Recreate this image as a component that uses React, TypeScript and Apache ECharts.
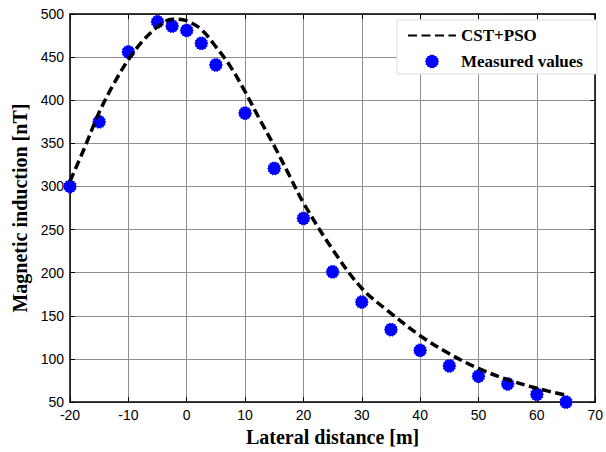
import React, { useEffect, useRef } from "react";
import * as echarts from "echarts";

const xMeasured = [-20, -15, -10, -5, -2.5, 0, 2.5, 5, 10, 15, 20, 25, 30, 35, 40, 45, 50, 55, 60, 65];
const yMeasured = [300, 375, 456, 491, 486, 481, 466, 441, 385, 321, 263, 201, 166, 134, 110, 92, 80, 71, 59, 50];

const xFit = [-20, -17.5, -15, -12.5, -10, -7.5, -5, -2.5, 0, 2.5, 5, 7.5, 10, 12.5, 15, 17.5, 20, 25, 30, 35, 40, 45, 50, 55, 60, 65];
const yFit = [306, 345, 386, 419, 447, 469, 485, 494, 492, 482, 462, 439, 410, 378, 347, 314, 281, 227, 182, 153, 127, 106, 89, 76, 66, 58];

const xTicks = { min: -20, max: 70, interval: 10 };
const yTicks = { min: 50, max: 500, interval: 50 };

const seriesNames = ["CST+PSO", "Measured values"];
const xTitle = "Lateral distance [m]";
const yTitle = "Magnetic induction [nT]";

// jagged round marker (MATLAB-like '*' + filled circle)
function starPath(n: number, inner: number): string {
  let d = "";
  for (let i = 0; i < n * 2; i++) {
    const r = i % 2 === 0 ? 1 : inner;
    const a = (Math.PI * i) / n;
    const x = (r * Math.cos(a)).toFixed(3);
    const y = (r * Math.sin(a)).toFixed(3);
    d += (i === 0 ? "M" : "L") + x + " " + y + " ";
  }
  return "path://" + d + "Z";
}

export default function App() {
  const ref = useRef<HTMLDivElement>(null);
  useEffect(() => {
    if (!ref.current) return;
    const chart = echarts.init(ref.current, null, { renderer: "svg" });
    const tickFont = { fontFamily: "Liberation Sans, Arial, sans-serif", fontSize: 14, color: "#000" };
    const titleFont = { fontFamily: "Liberation Serif, Times New Roman, serif", fontSize: 20, fontWeight: "bold" as const, color: "#000" };
    const axisLine = { show: true, onZero: false, lineStyle: { color: "#000", width: 1.5 } };
    const tick = { show: true, inside: true, length: 5, lineStyle: { color: "#000", width: 1 } };
    const split = { show: true, lineStyle: { color: "#8e8e8e", width: 1 } };
    const marker = starPath(14, 0.86);
    chart.setOption({
      animation: false,
      backgroundColor: "#fff",
      grid: { left: 70, right: 7, top: 14, bottom: 47, containLabel: false },
      legend: {
        orient: "vertical",
        left: 397,
        top: 20,
        itemWidth: 48,
        itemHeight: 14,
        itemGap: 9,
        padding: [7, 14, 4, 10],
        backgroundColor: "#fff",
        borderColor: "#dcdcdc",
        borderWidth: 1,
        textStyle: { fontFamily: "Liberation Serif, Times New Roman, serif", fontSize: 17, fontWeight: "bold", color: "#000" },
        data: [
          { name: seriesNames[0], itemStyle: { color: "rgba(0,0,0,0)", borderWidth: 0, opacity: 0 } },
          { name: seriesNames[1] },
        ],
      },
      xAxis: [
        {
          type: "value",
          min: xTicks.min,
          max: xTicks.max,
          interval: xTicks.interval,
          position: "bottom",
          name: xTitle,
          nameLocation: "middle",
          nameGap: 23,
          nameTextStyle: titleFont,
          axisLine,
          axisTick: tick,
          axisLabel: { ...tickFont, margin: 6 },
          splitLine: split,
        },
        {
          type: "value",
          min: xTicks.min,
          max: xTicks.max,
          interval: xTicks.interval,
          position: "top",
          axisLine,
          axisTick: tick,
          axisLabel: { show: false },
          splitLine: { show: false },
        },
      ],
      yAxis: [
        {
          type: "value",
          min: yTicks.min,
          max: yTicks.max,
          interval: yTicks.interval,
          position: "left",
          name: yTitle,
          nameLocation: "middle",
          nameGap: 38,
          nameTextStyle: titleFont,
          axisLine,
          axisTick: tick,
          axisLabel: { ...tickFont, margin: 6 },
          splitLine: split,
        },
        {
          type: "value",
          min: yTicks.min,
          max: yTicks.max,
          interval: yTicks.interval,
          position: "right",
          axisLine,
          axisTick: tick,
          axisLabel: { show: false },
          splitLine: { show: false },
        },
      ],
      series: [
        {
          name: seriesNames[0],
          type: "line",
          data: xFit.map((x, i) => [x, yFit[i]]),
          smooth: 0.35,
          symbol: "none",
          z: 3,
          lineStyle: { color: "#000", width: 3.5, type: [9, 4.5] },
          itemStyle: { color: "#000" },
        },
        {
          name: seriesNames[1],
          type: "scatter",
          data: xMeasured.map((x, i) => [x, yMeasured[i]]),
          symbol: marker,
          symbolSize: 14,
          z: 2,
          itemStyle: { color: "#0000ff", opacity: 1 },
        },
      ],
    });
    return () => chart.dispose();
  }, []);
  return <div ref={ref} style={{ width: 606, height: 452, position: "absolute", left: 0, top: 0 }} />;
}
